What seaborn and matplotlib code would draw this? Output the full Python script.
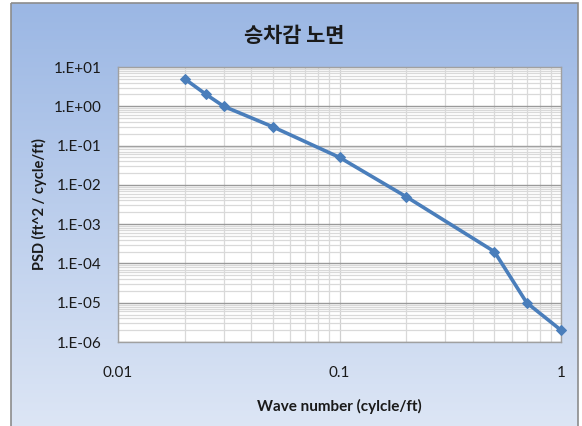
import numpy as np
import pandas as pd
import matplotlib
matplotlib.use("Agg")
import matplotlib.pyplot as plt
import seaborn as sns
from matplotlib.patches import Rectangle
from matplotlib.ticker import FixedLocator, NullFormatter

# Road roughness PSD for the ride-comfort road profile
wave_number = [0.02, 0.025, 0.03, 0.05, 0.1, 0.2, 0.5, 0.7, 1.0]
psd = [5.0, 2.0, 1.0, 0.3, 0.05, 0.005, 2e-4, 1e-5, 2e-6]

x_ticks = [0.01, 0.1, 1.0]
x_tick_labels = ["0.01", "0.1", "1"]
y_ticks = [1e-6, 1e-5, 1e-4, 1e-3, 1e-2, 1e-1, 1e0, 1e1]
y_tick_labels = ["1.E-06", "1.E-05", "1.E-04", "1.E-03",
                 "1.E-02", "1.E-01", "1.E+00", "1.E+01"]

title_text = "승차감 노면"
x_label = "Wave number (cylcle/ft)"
y_label = "PSD (ft^2 / cycle/ft)"

df = pd.DataFrame({"wave": wave_number, "psd": psd})

sns.set_theme(style="white")
plt.rcParams["font.family"] = ["Lato", "Noto Sans CJK KR", "DejaVu Sans"]

W, H = 582, 426
fig = plt.figure(figsize=(W / 100, H / 100), dpi=100)
fig.patch.set_facecolor("white")

# Chart-area background: blue-to-pale vertical gradient inside a grey frame
bg = fig.add_axes([0, 0, 1, 1], zorder=0)
bg.set_xlim(0, W)
bg.set_ylim(H, 0)
bg.axis("off")
top = np.array([155, 183, 228]) / 255
bottom = np.array([221, 230, 245]) / 255
t = np.linspace(0, 1, 256)[:, None, None]
grad = top * (1 - t) + bottom * t
grad = np.repeat(grad, 2, axis=1)
x0, x1, y0, y1 = 11, 578, 3, 430
bg.imshow(grad, extent=[x0, x1, y1, y0], aspect="auto", interpolation="bilinear")
bg.add_patch(Rectangle((x0, y0), x1 - x0, y1 - y0, fill=False,
                       edgecolor="#8c8c8c", linewidth=1.2))

# Plot area
L, R, T, B = 118, 561, 67, 342
ax = fig.add_axes([L / W, 1 - B / H, (R - L) / W, (B - T) / H], zorder=1)
ax.set_facecolor("white")

sns.lineplot(data=df, x="wave", y="psd", ax=ax, color="#4a7ebb",
             linewidth=2.6, marker="D", markersize=5.5,
             markeredgecolor="#4a7ebb", zorder=5, clip_on=False)

ax.set_xscale("log")
ax.set_yscale("log")
ax.set_xlim(0.01, 1.0)
ax.set_ylim(1e-6, 1e1)

ax.xaxis.set_major_locator(FixedLocator(x_ticks))
ax.set_xticklabels(x_tick_labels)
ax.yaxis.set_major_locator(FixedLocator(y_ticks))
ax.set_yticklabels(y_tick_labels)

minor_x = [m * 10.0 ** e for e in (-2, -1) for m in range(2, 10)]
minor_y = [m * 10.0 ** e for e in range(-6, 1) for m in range(2, 10)]
ax.xaxis.set_minor_locator(FixedLocator(minor_x))
ax.yaxis.set_minor_locator(FixedLocator(minor_y))
ax.xaxis.set_minor_formatter(NullFormatter())
ax.yaxis.set_minor_formatter(NullFormatter())

ax.grid(which="minor", axis="both", color="#d9d9d9", linewidth=0.9)
ax.grid(which="major", axis="x", color="#d0d0d0", linewidth=0.9)
ax.grid(which="major", axis="y", color="#9a9a9a", linewidth=1.0)
ax.set_axisbelow(True)

ax.tick_params(axis="both", which="both", length=0, labelsize=11,
               colors="#1a1a1a")
ax.tick_params(axis="y", pad=12)
ax.tick_params(axis="x", pad=17)

for s in ax.spines.values():
    s.set_color("#a0a0a0")
    s.set_linewidth(1.0)

ax.set_xlabel(x_label, fontsize=11, fontweight="bold", labelpad=14,
              color="#1a1a1a")
ax.set_ylabel(y_label, fontsize=10.5, fontweight="bold", labelpad=5,
              color="#1a1a1a")

fig.text(294 / W, 1 - 35 / H, title_text, ha="center", va="center",
         fontsize=15, fontweight="bold", color="#1a1a1a",
         family=["Noto Sans CJK KR", "DejaVu Sans"])

fig.savefig("out.png", dpi=100)
